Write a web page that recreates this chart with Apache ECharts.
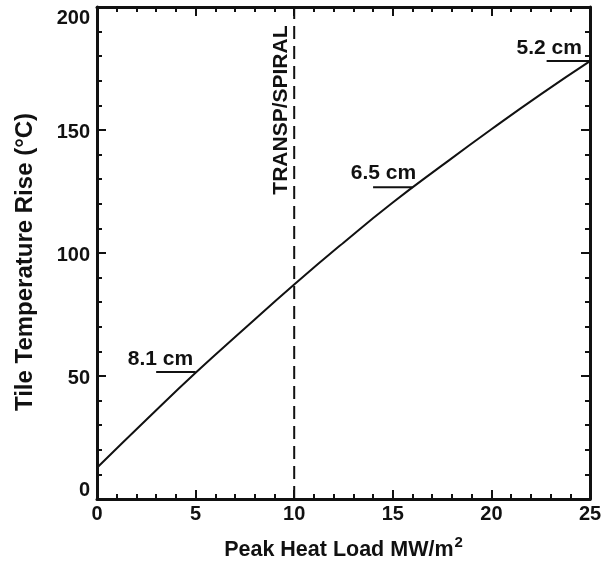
<!DOCTYPE html>
<html>
<head>
<meta charset="utf-8">
<script src="https://cdn.jsdelivr.net/npm/echarts@6/dist/echarts.min.js"></script>
<style>html,body{margin:0;padding:0;background:#fff}#c{width:601px;height:561px}</style>
</head>
<body>
<div id="c"></div>
<script>
// Data
var heatLoad = [0, 2.5, 5, 7.5, 10, 12.5, 15, 17.5, 20, 22.5, 25];
var tempRise = [12.7, 32.2, 51.3, 69.4, 87.2, 104.2, 120.5, 135.6, 150.3, 164.5, 178.0];
var transpX = [10, 10];
var transpY = [0, 200];
var markerNames = ['8.1 cm', '6.5 cm', '5.2 cm'];
var markerStartX = [3.0, 14.0, 22.8];
var markerEndX = [5.0, 16.0, 25.0];
var markerY = [51.6, 126.7, 178.0];
var markerLabelX = [3.22, 14.53, 22.93];
var markerLabelY = [56.8, 132.5, 183.3];
var boundaryLabel = 'TRANSP/SPIRAL';
var boundaryLabelPos = [9.35, 158.1];
var xTicks = [0, 5, 10, 15, 20, 25];
var yTicks = [0, 50, 100, 150, 200];

var FONT = '"Liberation Sans", Arial, sans-serif';
var INK = '#111';

var series = [];
series.push({
  type: 'line', xAxisIndex: 0, yAxisIndex: 0, smooth: true, symbol: 'none',
  data: heatLoad.map(function (x, i) { return [x, tempRise[i]]; }),
  lineStyle: { color: INK, width: 2 }, z: 5
});
series.push({
  type: 'line', xAxisIndex: 0, yAxisIndex: 0, symbol: 'none',
  data: transpX.map(function (x, i) { return [x, transpY[i]]; }),
  lineStyle: { color: INK, width: 2, type: [13, 7] }, z: 4
});
markerNames.forEach(function (n, i) {
  series.push({
    type: 'line', xAxisIndex: 0, yAxisIndex: 0, symbol: 'none',
    data: [[markerStartX[i], markerY[i]], [markerEndX[i], markerY[i]]],
    lineStyle: { color: INK, width: 2 }, z: 5
  });
});
// Text annotations placed through the axes' scales
var textData = markerNames.map(function (n, i) { return [markerLabelX[i], markerLabelY[i], n, 0]; });
textData.push([boundaryLabelPos[0], boundaryLabelPos[1], boundaryLabel, 1]);
series.push({
  type: 'custom', xAxisIndex: 0, yAxisIndex: 0, silent: true,
  data: textData,
  encode: { x: 0, y: 1 },
  renderItem: function (params, api) {
    var p = api.coord([api.value(0), api.value(1)]);
    var rot = api.value(3) === 1;
    return {
      type: 'text', x: p[0], y: p[1], rotation: rot ? Math.PI / 2 : 0,
      style: {
        text: textData[params.dataIndex][2], fill: INK,
        font: 'bold 21px ' + FONT,
        align: 'center', verticalAlign: 'middle'
      }
    };
  },
  z: 6
});

var axisCommon = {
  min: 0,
  axisLine: { show: true, onZero: false, lineStyle: { color: INK, width: 3 } },
  axisTick: { show: true, inside: true, length: 9, lineStyle: { color: INK, width: 2 } },
  minorTick: { show: true, splitNumber: 5, length: 5, lineStyle: { color: INK, width: 2 } },
  splitLine: { show: false },
  minorSplitLine: { show: false }
};

var option = {
  animation: false,
  backgroundColor: '#fff',
  grid: { left: 97, right: 11, top: 7, bottom: 62, containLabel: false, outerBoundsMode: 'none' },
  xAxis: [
    Object.assign({}, axisCommon, {
      type: 'value', position: 'bottom', max: 25, interval: 5,
      axisLabel: { color: INK, fontFamily: FONT, fontWeight: 'bold', fontSize: 20, margin: 5,
                   customValues: xTicks },
      name: 'Peak Heat Load MW/m{sup|2}', nameLocation: 'middle', nameGap: 36,
      nameTextStyle: { color: INK, fontFamily: FONT, fontWeight: 'bold', fontSize: 21.5,
        rich: { sup: { fontSize: 15, verticalAlign: 'top', padding: [0, 0, 15, 1], color: INK, fontFamily: FONT, fontWeight: 'bold' } } }
    }),
    Object.assign({}, axisCommon, {
      type: 'value', position: 'top', max: 25, interval: 5,
      axisLabel: { show: false }
    })
  ],
  yAxis: [
    Object.assign({}, axisCommon, {
      type: 'value', position: 'left', max: 200, interval: 50,
      axisLabel: { color: INK, fontFamily: FONT, fontWeight: 'bold', fontSize: 20, margin: 7,
                   customValues: yTicks,
                   formatter: function (v) {
                     if (v === 200) return '{t|' + v + '}';
                     if (v === 0) return '{b|' + v + '}';
                     return '{m|' + v + '}';
                   },
                   rich: {
                     t: { padding: [22, 0, 0, 0], fontFamily: FONT, fontWeight: 'bold', fontSize: 20, color: INK },
                     b: { padding: [0, 0, 18, 0], fontFamily: FONT, fontWeight: 'bold', fontSize: 20, color: INK },
                     m: { padding: [4, 0, 0, 0], fontFamily: FONT, fontWeight: 'bold', fontSize: 20, color: INK }
                   } },
      name: 'Tile Temperature Rise (°C)', nameLocation: 'middle', nameGap: 60,
      nameTextStyle: { color: INK, fontFamily: FONT, fontWeight: 'bold', fontSize: 24, padding: [0, 18, 0, 0] }
    }),
    Object.assign({}, axisCommon, {
      type: 'value', position: 'right', max: 200, interval: 50,
      axisLabel: { show: false }
    })
  ],
  series: series
};
var chart = echarts.init(document.getElementById('c'), null, { renderer: 'canvas' });
chart.setOption(option);
</script>
</body>
</html>
